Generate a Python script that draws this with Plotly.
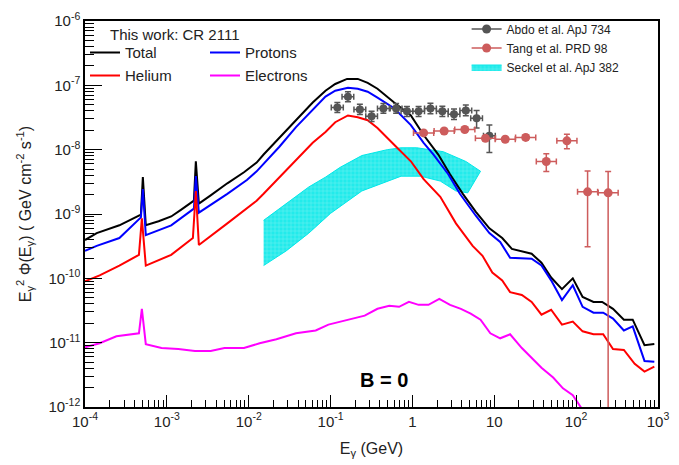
import plotly.graph_objects as go

# ---------------- data ----------------
total_E = [1e-4, 1.39e-4, 2.63e-4, 4.82e-4, 5.09e-4, 5.53e-4, 7.93e-4, 1.13e-3, 1.50e-3, 2.14e-3,
           2.26e-3, 2.46e-3, 3.43e-3, 5.48e-3, 8.75e-3, 1.25e-2, 1.52e-2, 2.37e-2, 3.78e-2,
           6.05e-2, 8.67e-2, 0.114, 0.159, 0.215, 0.284, 0.374, 0.598, 0.957, 1.37, 2.07, 2.88,
           4.13, 5.92, 8.71, 12.5, 16.4, 28.6, 37.7, 49.5, 67.1, 91.0, 120, 163, 208, 282, 383,
           491, 684, 902]
total_F = [3.94e-10, 5.05e-10, 6.67e-10, 9.8e-10, 3.74e-9, 6.7e-10, 7.7e-10, 9.15e-10, 1.17e-9,
           1.61e-9, 6.6e-9, 1.45e-9, 1.95e-9, 3.0e-9, 4.45e-9, 6.3e-9, 8.4e-9, 1.52e-8, 2.87e-8,
           5.4e-8, 8.25e-8, 1.05e-7, 1.26e-7, 1.26e-7, 1.09e-7, 8.85e-8, 5.4e-8, 3.4e-8, 1.69e-8,
           8.4e-9, 4.15e-9, 2.06e-9, 1.09e-9, 6.0e-10, 4.23e-10, 2.87e-10, 2.41e-10, 1.75e-10,
           1.03e-10, 6.8e-11, 1.0e-10, 5.13e-11, 4.3e-11, 4.3e-11, 3.36e-11, 2.28e-11, 2.28e-11,
           9.15e-12, 9.5e-12]

protons_E = [1e-4, 1.39e-4, 2.63e-4, 4.82e-4, 5.09e-4, 5.53e-4, 1.13e-3, 2.14e-3, 2.26e-3,
             2.46e-3, 5.48e-3, 9.5e-3, 1.25e-2, 1.52e-2, 2.37e-2, 3.78e-2, 6.05e-2, 8.67e-2,
             0.114, 0.163, 0.215, 0.284, 0.374, 0.598, 0.957, 1.37, 1.81, 2.74, 3.80, 5.92,
             8.71, 11.8, 15.6, 28.6, 37.7, 49.5, 67.1, 91.0, 120, 163, 214, 282, 383, 491,
             684, 902]
protons_F = [2.67e-10, 3.19e-10, 4.23e-10, 8.85e-10, 2.45e-9, 4.7e-10, 6.67e-10, 1.21e-9, 3.9e-9,
             1.05e-9, 2.05e-9, 3.37e-9, 4.6e-9, 6.0e-9, 1.11e-8, 2.24e-8, 4.1e-8, 6.67e-8,
             8.25e-8, 9.2e-8, 8.85e-8, 7.95e-8, 6.45e-8, 4.4e-8, 2.41e-8, 1.28e-8, 8.4e-9,
             4.15e-9, 2.06e-9, 9.48e-10, 5.05e-10, 3.67e-10, 2.09e-10, 2.02e-10, 1.58e-10,
             9.3e-11, 4.6e-11, 7.8e-11, 3.61e-11, 2.92e-11, 2.92e-11, 2.37e-11, 1.55e-11,
             1.79e-11, 5.2e-12, 5.04e-12]

helium_E = [1e-4, 1.51e-4, 2.63e-4, 4.56e-4, 4.95e-4, 5.53e-4, 1.13e-3, 2.08e-3, 2.26e-3,
            2.46e-3, 5.48e-3, 9.5e-3, 1.25e-2, 1.52e-2, 2.37e-2, 3.78e-2, 6.05e-2, 8.67e-2,
            0.114, 0.163, 0.215, 0.284, 0.374, 0.598, 0.957, 1.37, 2.19, 3.40, 5.44, 7.18, 9.46,
            12.5, 15.6, 21.7, 28.6, 37.7, 49.5, 67.1, 91.0, 120, 163, 214, 282, 383, 519, 684,
            902]
helium_F = [9.0e-11, 1.11e-10, 1.58e-10, 2.32e-10, 8.55e-10, 1.58e-10, 2.32e-10, 4.23e-10, 2.28e-9,
            3.3e-10, 7.15e-10, 1.21e-9, 1.61e-9, 2.06e-9, 3.74e-9, 7.03e-9, 1.28e-8, 1.88e-8,
            2.67e-8, 3.4e-8, 3.2e-8, 2.87e-8, 2.17e-8, 1.19e-8, 6.6e-9, 3.48e-9, 1.85e-9,
            7.15e-10, 3.19e-10, 2.24e-10, 1.23e-10, 9.3e-11, 6.1e-11, 5.5e-11, 4.3e-11, 2.72e-11,
            3.25e-11, 1.91e-11, 2.13e-11, 1.5e-11, 1.35e-11, 1.35e-11, 7.95e-12, 7.7e-12, 4.7e-12,
            3.55e-12, 4.23e-12]

electrons_E = [1e-4, 1.51e-4, 2.42e-4, 4.56e-4, 4.95e-4, 5.53e-4, 8.6e-4, 1.38e-3, 2.2e-3,
               3.43e-3, 5.05e-3, 8.75e-3, 1.36e-2, 2.18e-2, 3.78e-2, 6.58e-2, 9.42e-2, 0.163,
               0.261, 0.374, 0.521, 0.687, 0.906, 1.19, 1.57, 2.13, 2.88, 3.91, 5.15, 6.79,
               8.95, 11.8, 15.6, 21.7, 28.6, 37.7, 52.4, 69.0, 91.0, 120]
electrons_F = [8.5e-12, 9.8e-12, 1.26e-11, 1.4e-11, 3.36e-11, 9.5e-12, 8.25e-12, 7.95e-12, 7.4e-12,
               7.4e-12, 8.25e-12, 8.25e-12, 9.8e-12, 1.13e-11, 1.4e-11, 1.55e-11, 1.91e-11, 2.28e-11,
               2.63e-11, 3.36e-11, 3.74e-11, 3.61e-11, 4.3e-11, 3.87e-11, 3.87e-11, 4.78e-11,
               3.87e-11, 3.36e-11, 2.82e-11, 2.28e-11, 1.4e-11, 1.17e-11, 1.35e-11, 8.25e-12,
               5.8e-12, 4.08e-12, 2.87e-12, 1.95e-12, 1.52e-12, 9.0e-13]

abdo_E = [0.121, 0.163, 0.228, 0.317, 0.442, 0.632, 0.857, 1.19, 1.66, 2.32, 3.22, 4.49, 6.08, 8.71]
abdo_F = [4.53e-8, 6.67e-8, 4.22e-8, 3.30e-8, 4.37e-8, 4.37e-8, 3.94e-8, 3.94e-8, 4.37e-8,
          3.94e-8, 3.55e-8, 4.08e-8, 3.08e-8, 1.64e-8]
abdo_err_up = [0.9e-8, 1.3e-8, 0.85e-8, 0.65e-8, 0.85e-8, 0.85e-8, 0.75e-8, 0.75e-8, 0.9e-8,
               0.8e-8, 0.75e-8, 0.85e-8, 1.0e-8, 0.77e-8]
abdo_err_dn = [0.75e-8, 1.1e-8, 0.7e-8, 0.55e-8, 0.7e-8, 0.7e-8, 0.65e-8, 0.65e-8, 0.75e-8,
               0.65e-8, 0.6e-8, 0.7e-8, 0.9e-8, 0.74e-8]
abdo_Eerr_up = [0.022, 0.029, 0.041, 0.057, 0.080, 0.114, 0.154, 0.214, 0.30, 0.42, 0.58, 0.81, 1.09, 1.57]
abdo_Eerr_dn = [0.019, 0.025, 0.035, 0.048, 0.068, 0.097, 0.131, 0.182, 0.254, 0.355, 0.49, 0.69, 0.93, 1.33]

tang_E = [1.37, 2.44, 4.36, 7.80, 13.6, 24.2, 43.2, 77.1, 138, 246]
tang_F = [1.82e-8, 1.95e-8, 2.06e-8, 1.50e-8, 1.45e-8, 1.55e-8, 6.56e-9, 1.37e-8, 2.21e-9, 2.13e-9]
tang_err_up = [0.15e-8, 0.15e-8, 0.15e-8, 0.12e-8, 0.12e-8, 0.15e-8, 2.1e-9, 3.6e-9, 2.45e-9, 2.43e-9]
tang_err_dn = [0.15e-8, 0.15e-8, 0.15e-8, 0.12e-8, 0.12e-8, 0.15e-8, 2.0e-9, 3.4e-9, 1.9e-9, 2.1299e-9]
tang_Eerr_up = [0.45, 0.80, 1.43, 2.55, 4.45, 7.9, 14.1, 25.2, 45, 80]
tang_Eerr_dn = [0.34, 0.60, 1.07, 1.92, 3.35, 6.0, 10.6, 19.0, 34, 60]

seckel_up_E = [0.0152, 0.0287, 0.0542, 0.0867, 0.131, 0.241, 0.493, 0.726, 1.13, 2.38, 4.49, 6.79]
seckel_up_F = [7.96e-10, 1.45e-9, 2.63e-9, 3.74e-9, 5.31e-9, 8.1e-9, 1.0e-8, 1.07e-8, 1.07e-8,
               9.3e-9, 6.56e-9, 4.62e-9]
seckel_lo_E = [0.0152, 0.0287, 0.0542, 0.0996, 0.131, 0.241, 0.726, 1.26, 2.19, 3.40, 4.74]
seckel_lo_F = [1.58e-10, 2.67e-10, 5.04e-10, 1.02e-9, 1.30e-9, 2.28e-9, 3.87e-9, 3.87e-9,
               3.25e-9, 2.28e-9, 2.13e-9]

x_tickvals = [1e-4, 1e-3, 1e-2, 1e-1, 1, 10, 100, 1000]
x_ticktext = ["10<sup>-4</sup>", "10<sup>-3</sup>", "10<sup>-2</sup>", "10<sup>-1</sup>",
              "1", "10", "10<sup>2</sup>", "10<sup>3</sup>"]
y_tickvals = [1e-12, 1e-11, 1e-10, 1e-9, 1e-8, 1e-7, 1e-6]
y_ticktext = ["10<sup>-12</sup>", "10<sup>-11</sup>", "10<sup>-10</sup>", "10<sup>-9</sup>",
              "10<sup>-8</sup>", "10<sup>-7</sup>", "10<sup>-6</sup>"]

FONT = "Liberation Sans, Arial, Helvetica, sans-serif"
GRAY = "#555555"
TANGC = "#cd5c5c"
TXT = "#222222"

fig = go.Figure()

# Seckel band
fig.add_trace(go.Scatter(
    x=seckel_up_E + seckel_lo_E[::-1], y=seckel_up_F + seckel_lo_F[::-1],
    fill="toself", mode="lines", line=dict(color="#00e8e8", width=1),
    fillcolor="#30eeee",
    fillpattern=dict(shape="+", fgcolor="#9af6f6", bgcolor="#22ebeb", size=4, solidity=0.3),
    name="Seckel et al. ApJ 382", legend="legend3", legendrank=3))

# model curves
fig.add_trace(go.Scatter(x=total_E, y=total_F, mode="lines", line=dict(color="black", width=2),
                         name="Total", legend="legend"))
fig.add_trace(go.Scatter(x=protons_E, y=protons_F, mode="lines", line=dict(color="#0000ff", width=2),
                         name="Protons", legend="legend"))
fig.add_trace(go.Scatter(x=helium_E, y=helium_F, mode="lines", line=dict(color="#ff0000", width=2),
                         name="Helium", legend="legend2"))
fig.add_trace(go.Scatter(x=electrons_E, y=electrons_F, mode="lines", line=dict(color="#ff00ff", width=2),
                         name="Electrons", legend="legend2"))

# data points
fig.add_trace(go.Scatter(
    x=abdo_E, y=abdo_F, mode="markers", marker=dict(color=GRAY, size=8),
    error_y=dict(type="data", symmetric=False, array=abdo_err_up, arrayminus=abdo_err_dn,
                 color=GRAY, thickness=1.5, width=3),
    error_x=dict(type="data", symmetric=False, array=abdo_Eerr_up, arrayminus=abdo_Eerr_dn,
                 color=GRAY, thickness=1.5, width=3),
    showlegend=False))
fig.add_trace(go.Scatter(
    x=tang_E, y=tang_F, mode="markers", marker=dict(color=TANGC, size=9),
    error_y=dict(type="data", symmetric=False, array=tang_err_up, arrayminus=tang_err_dn,
                 color=TANGC, thickness=1.5, width=3),
    error_x=dict(type="data", symmetric=False, array=tang_Eerr_up, arrayminus=tang_Eerr_dn,
                 color=TANGC, thickness=1.5, width=3),
    showlegend=False))
# legend entries for the data sets
fig.add_trace(go.Scatter(x=[None], y=[None], mode="lines+markers",
                         line=dict(color=GRAY, width=1.5), marker=dict(color=GRAY, size=9),
                         name="Abdo et al. ApJ 734", legend="legend3", legendrank=1))
fig.add_trace(go.Scatter(x=[None], y=[None], mode="lines+markers",
                         line=dict(color=TANGC, width=1.5), marker=dict(color=TANGC, size=9),
                         name="Tang et al. PRD 98", legend="legend3", legendrank=2))

axis_common = dict(type="log", showline=True, linecolor="black", linewidth=1.5, mirror=True,
                   ticks="inside", tickcolor="black", showgrid=False, zeroline=False,
                   tickmode="array", tickfont=dict(family=FONT, size=15, color=TXT))

fig.update_layout(
    width=679, height=465,
    margin=dict(l=85, r=10, t=14, b=58),
    paper_bgcolor="white", plot_bgcolor="white",
    font=dict(family=FONT, color=TXT),
    xaxis=dict(axis_common, range=[-4, 3], tickvals=x_tickvals, ticktext=x_ticktext, ticklen=12,
               minor=dict(ticks="inside", ticklen=7, tickcolor="black", dtick="D1", showgrid=False),
               title=dict(text="E<sub>γ</sub> (GeV)", font=dict(family=FONT, size=16), standoff=14)),
    yaxis=dict(axis_common, range=[-12, -6], tickvals=y_tickvals, ticktext=y_ticktext, ticklen=17,
               minor=dict(ticks="inside", ticklen=9, tickcolor="black", dtick="D1", showgrid=False),
               title=dict(text="E<sub>γ</sub><sup>2</sup> Φ(E<sub>γ</sub>) ( GeV cm<sup>-2</sup> s<sup>-1</sup>)",
                          font=dict(family=FONT, size=16), standoff=13)),
    legend=dict(orientation="h", x=0.0, xanchor="left", y=0.918, yanchor="middle",
                bgcolor="rgba(0,0,0,0)", font=dict(family=FONT, size=15, color=TXT),
                entrywidth=75, entrywidthmode="pixels", traceorder="normal"),
    legend2=dict(orientation="h", x=0.0, xanchor="left", y=0.858, yanchor="middle",
                 bgcolor="rgba(0,0,0,0)", font=dict(family=FONT, size=15, color=TXT),
                 entrywidth=75, entrywidthmode="pixels", traceorder="normal"),
    legend3=dict(x=0.666, xanchor="left", y=0.930, yanchor="middle",
                 bgcolor="rgba(0,0,0,0)", font=dict(family=FONT, size=12, color=TXT),
                 traceorder="normal"),
    annotations=[
        dict(text="This work: CR 2111", xref="paper", yref="paper", x=0.040, y=0.966,
             xanchor="left", yanchor="middle", showarrow=False,
             font=dict(family=FONT, size=15, color=TXT)),
        dict(text="<b>B = 0</b>", xref="paper", yref="paper", x=0.522, y=0.071,
             xanchor="center", yanchor="middle", showarrow=False,
             font=dict(family=FONT, size=20, color="black")),
    ],
)

fig.write_html("out.html")
